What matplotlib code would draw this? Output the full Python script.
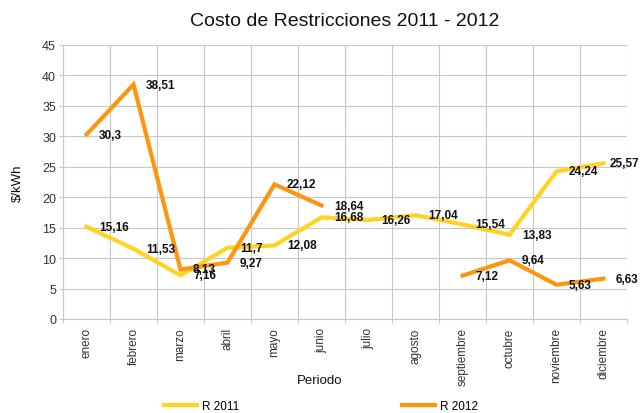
import matplotlib
matplotlib.use("Agg")
import matplotlib.pyplot as plt
from matplotlib.lines import Line2D
import numpy as np

plt.rcParams['font.family'] = ['Liberation Sans', 'DejaVu Sans']

# monthly restriction cost, $/kWh
meses = ['enero', 'febrero', 'marzo', 'abril', 'mayo', 'junio', 'julio',
         'agosto', 'septiembre', 'octubre', 'noviembre', 'diciembre']
r2011 = [15.16, 11.53, 7.16, 11.7, 12.08, 16.68, 16.26, 17.04, 15.54, 13.83, 24.24, 25.57]
r2012 = [30.3, 38.51, 8.13, 9.27, 22.12, 18.64, np.nan, np.nan, 7.12, 9.64, 5.63, 6.63]

COL_2011 = '#FFD320'
COL_2012 = '#FF950E'
GRID = '#c8c8c8'


def fmt(v):
    s = f'{v:.2f}'.rstrip('0').rstrip('.')
    return s.replace('.', ',')


fig = plt.figure(figsize=(6.4, 4.14), dpi=100)
ax = fig.add_axes([63 / 640, 1 - 320 / 414, 564 / 640, 274 / 414])

x = np.arange(len(meses))
ax.plot(x, r2011, color=COL_2011, lw=3, solid_joinstyle='miter', zorder=3)
ax.plot(x, r2012, color=COL_2012, lw=3, solid_joinstyle='miter', zorder=4)

etiquetas = []
for serie in (r2011, r2012):
    for xi, v in zip(x, serie):
        if np.isnan(v):
            continue
        t = ax.annotate(fmt(v), (xi, v), xytext=(9, 0), textcoords='offset points',
                        ha='left', va='center', fontsize=8.5, fontweight='bold',
                        color='#111111', zorder=5, annotation_clip=False)
        etiquetas.append(t)

ax.set_xlim(-0.5, len(meses) - 0.5)
ax.set_ylim(0, 45)
ax.set_yticks(np.arange(0, 46, 5))

# gridlines sit on category boundaries, labels in the middle
ax.set_xticks(np.arange(-0.5, len(meses), 1.0))
ax.set_xticklabels([])
ax.set_xticks(x, minor=True)
ax.set_xticklabels(meses, minor=True, rotation=90, fontsize=8.5, color='#333333')
ax.tick_params(axis='x', which='minor', length=0, pad=6)
ax.tick_params(axis='x', which='major', length=3, color=GRID)
ax.tick_params(axis='y', length=3, color=GRID, labelsize=9, labelcolor='#333333', pad=2)

ax.grid(True, which='major', color=GRID, lw=0.8)
ax.set_axisbelow(True)
for side in ('top', 'right'):
    ax.spines[side].set_visible(False)
for side in ('left', 'bottom'):
    ax.spines[side].set_color(GRID)

fig.text(345 / 640, 1 - 21 / 414, 'Costo de Restricciones 2011 - 2012',
         ha='center', va='center', fontsize=14, color='#111111')
fig.text(18 / 640, 1 - 183 / 414, '$/kWh', rotation=90, ha='center', va='center',
         fontsize=9.5, color='#111111')
fig.text(320 / 640, 1 - 381 / 414, 'Periodo', ha='center', va='center',
         fontsize=9.5, color='#111111')

handles = [Line2D([], [], color=COL_2011, lw=3), Line2D([], [], color=COL_2012, lw=3)]
fig.legend(handles, ['R 2011', 'R 2012'], loc='center', ncol=2,
           bbox_to_anchor=(321 / 640, 1 - 407 / 414), frameon=False,
           fontsize=8.5, handlelength=2.8, handletextpad=0.4, columnspacing=13.8)

# keep data labels inside the figure's right edge
fig.canvas.draw()
renderer = fig.canvas.get_renderer()
for t in etiquetas:
    bb = t.get_window_extent(renderer)
    exceso = bb.x1 - (fig.bbox.width - 1)
    if exceso > 0:
        ox, oy = t.xyann
        t.xyann = (ox - exceso * 72 / fig.dpi, oy)

fig.savefig('out.png', dpi=100)
